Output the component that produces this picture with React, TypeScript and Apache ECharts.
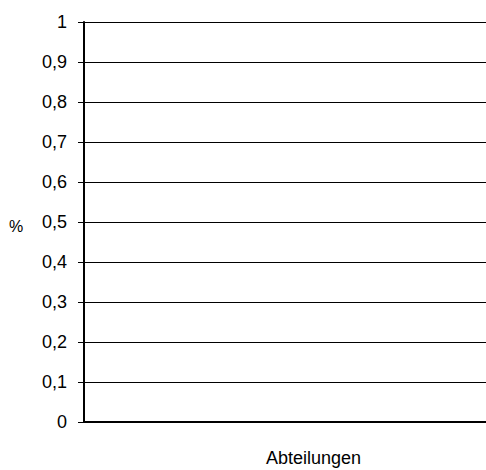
import React, { useEffect, useRef } from "react";
import * as echarts from "echarts";

const categories: string[] = ["Abteilung"];
const seriesValues: (number | null)[] = [null];
const yTicks: number[] = [0, 0.1, 0.2, 0.3, 0.4, 0.5, 0.6, 0.7, 0.8, 0.9, 1];
const xAxisName = "Abteilungen";
const yAxisName = "%";

export default function App() {
  const ref = useRef<HTMLDivElement>(null);
  useEffect(() => {
    if (!ref.current) return;
    const chart = echarts.init(ref.current, undefined, { renderer: "svg" });
    const font = "'Liberation Sans', Arial, sans-serif";
    chart.setOption({
      animation: false,
      backgroundColor: "#ffffff",
      grid: { left: 84, top: 22, width: 460, height: 400, containLabel: false },
      xAxis: {
        type: "category",
        data: categories,
        axisLabel: { show: false },
        axisTick: { show: false },
        axisLine: { show: true, lineStyle: { color: "#000", width: 2 } },
        splitLine: { show: false },
      },
      yAxis: {
        type: "value",
        min: yTicks[0],
        max: yTicks[yTicks.length - 1],
        interval: 0.1,
        axisLine: { show: true, onZero: false, lineStyle: { color: "#000", width: 2 } },
        axisTick: { show: true, length: 6, lineStyle: { color: "#000", width: 1 } },
        axisLabel: {
          margin: 17,
          fontFamily: font,
          fontSize: 18,
          color: "#000",
          formatter: (v: number) => String(Math.round(v * 10) / 10).replace(".", ","),
        },
        splitLine: { show: true, lineStyle: { color: "#000", width: 1 } },
      },
      graphic: [
        {
          type: "text",
          left: 9,
          top: 218,
          style: { text: yAxisName, fontFamily: font, fontSize: 16, fill: "#000" },
        },
        {
          type: "text",
          left: 266,
          top: 449,
          style: { text: xAxisName, fontFamily: font, fontSize: 18, fill: "#000" },
        },
      ],
      series: [
        {
          type: "bar",
          data: seriesValues,
          itemStyle: { color: "#9999ff" },
        },
      ],
    });
    return () => chart.dispose();
  }, []);
  return (
    <div
      ref={ref}
      style={{ position: "fixed", left: 0, top: 0, width: 486, height: 470, background: "#fff" }}
    />
  );
}
